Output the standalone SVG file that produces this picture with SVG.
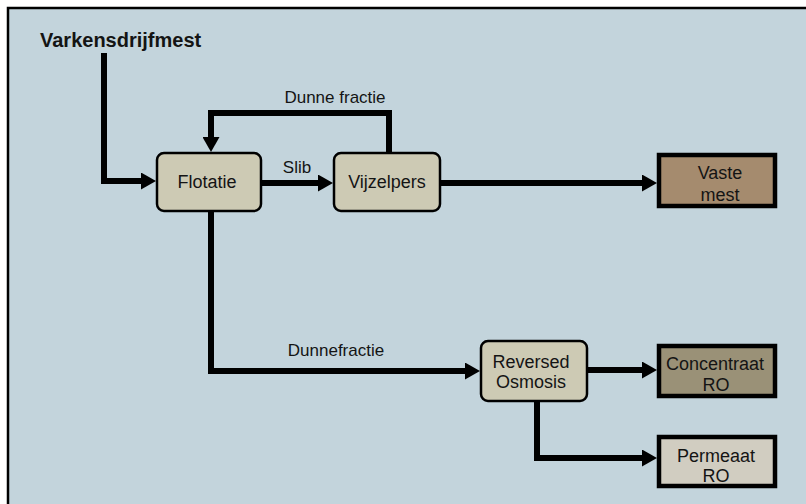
<svg xmlns="http://www.w3.org/2000/svg" width="806" height="504" viewBox="0 0 806 504">
  <style>
    text { font-family: "Liberation Sans", Arial, sans-serif; fill: #141414; }
    .title { font-size: 20px; font-weight: bold; }
    .lbl { font-size: 17px; text-anchor: middle; }
    .nt { font-size: 18px; text-anchor: middle; }
    .proc { fill: #CDCAB4; stroke: #000; stroke-width: 2.5; }
    .out { stroke: #000; stroke-width: 4.5; }
    .flow { fill: none; stroke: #000; stroke-width: 6; stroke-linejoin: miter; marker-end: url(#arrow); }
  </style>
  <defs>
    <marker id="arrow" markerUnits="userSpaceOnUse" markerWidth="16" markerHeight="17" viewBox="0 0 16 17" refX="0" refY="8.5" orient="auto">
      <path d="M0,0 L15,8.5 L0,17 z" fill="#000"/>
    </marker>
  </defs>

  <!-- page background with frame -->
  <rect x="0" y="0" width="806" height="504" fill="#FFFFFF"/>
  <rect x="8" y="8" width="820" height="520" fill="#C3D4DC" stroke="#000" stroke-width="2.5"/>

  <text class="title" x="40" y="47">Varkensdrijfmest</text>

  <!-- connectors -->
  <g id="connectors">
    <path class="flow" d="M104,53 V181 H141"/>
    <path class="flow" d="M389,152 V113 H211 V137"/>
    <path class="flow" d="M261,183 H318"/>
    <path class="flow" d="M440,183 H642"/>
    <path class="flow" d="M211,212 V371 H465"/>
    <path class="flow" d="M587,370 H642"/>
    <path class="flow" d="M537,401 V458 H642"/>
    <text class="lbl" x="335" y="103">Dunne fractie</text>
    <text class="lbl" x="297" y="173">Slib</text>
    <text class="lbl" x="336" y="356">Dunnefractie</text>
  </g>

  <g id="flotatie">
    <rect class="proc" x="157" y="153" width="104" height="58" rx="7"/>
    <text class="nt" x="207" y="188">Flotatie</text>
  </g>

  <g id="vijzelpers">
    <rect class="proc" x="334" y="153" width="106" height="58" rx="7"/>
    <text class="nt" x="387" y="188">Vijzelpers</text>
  </g>

  <g id="vaste-mest">
    <rect class="out" x="659" y="155" width="116" height="51" fill="#A58B6E"/>
    <text class="nt" x="720" y="179">Vaste</text>
    <text class="nt" x="720" y="201">mest</text>
  </g>

  <g id="reversed-osmosis">
    <rect class="proc" x="481" y="341" width="106" height="60" rx="7"/>
    <text class="nt" x="531" y="368">Reversed</text>
    <text class="nt" x="531" y="388">Osmosis</text>
  </g>

  <g id="concentraat-ro">
    <rect class="out" x="659" y="346" width="116" height="50" fill="#9A9177"/>
    <text class="nt" x="715" y="370">Concentraat</text>
    <text class="nt" x="716" y="391">RO</text>
  </g>

  <g id="permeaat-ro">
    <rect class="out" x="659" y="437" width="116" height="49" fill="#D1CDC1"/>
    <text class="nt" x="716" y="462">Permeaat</text>
    <text class="nt" x="716" y="482">RO</text>
  </g>
</svg>
